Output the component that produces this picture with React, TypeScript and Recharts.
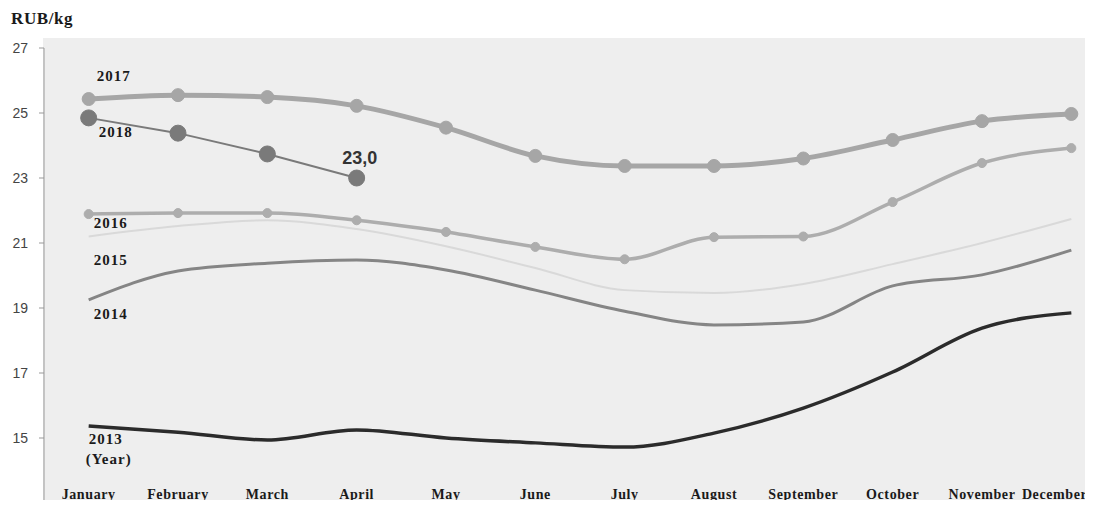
import React from "react"
import { LineChart, Line, XAxis, YAxis, LabelList } from "recharts"

const months = [
  "January", "February", "March", "April", "May", "June",
  "July", "August", "September", "October", "November", "December",
]
const y2013 = [15.37, 15.18, 14.94, 15.25, 15.0, 14.85, 14.72, 15.15, 15.92, 17.03, 18.38, 18.85]
const y2014 = [19.25, 20.14, 20.38, 20.48, 20.17, 19.55, 18.9, 18.48, 18.57, 19.68, 20.02, 20.78]
const y2015 = [21.2, 21.52, 21.7, 21.43, 20.9, 20.23, 19.55, 19.46, 19.74, 20.35, 21.0, 21.74]
const y2016 = [21.89, 21.92, 21.92, 21.7, 21.34, 20.88, 20.5, 21.18, 21.2, 22.26, 23.46, 23.92]
const y2017 = [25.43, 25.55, 25.49, 25.22, 24.55, 23.68, 23.37, 23.37, 23.6, 24.17, 24.75, 24.97]
const y2018 = [24.85, 24.38, 23.74, 23.0]
const yTicks = [13, 15, 17, 19, 21, 23, 25, 27]

const data = months.map((m, i) => ({
  month: m,
  y2013: y2013[i],
  y2014: y2014[i],
  y2015: y2015[i],
  y2016: y2016[i],
  y2017: y2017[i],
  y2018: i < y2018.length ? y2018[i] : null,
}))

const serif = "'Liberation Serif', 'DejaVu Serif', serif"
const sans = "'Liberation Sans', Arial, sans-serif"

// plot area runs from x=44 to x=1116, months sit in the middle of 12 equal slots
const PLOT_W = 1072
const SLOT = PLOT_W / 12

// label drawn next to the first point of a series
function seriesLabel(lines: string[], dx: number, dy: number) {
  return (props: any) => {
    if (props.index !== 0) return null
    return (
      <text
        x={props.x + dx}
        y={props.y + dy}
        fontFamily={serif}
        fontWeight="bold"
        fontSize={15}
        letterSpacing={1}
        fill="#1a1a1a"
      >
        {lines.map((l, i) => (
          <tspan key={i} x={props.x + dx + (i === 1 ? -3 : 0)} dy={i === 0 ? 0 : 20}>
            {l}
          </tspan>
        ))}
      </text>
    )
  }
}

function lastValueLabel(props: any) {
  if (props.index !== y2018.length - 1) return null
  return (
    <text
      x={props.x + 3}
      y={props.y - 14}
      textAnchor="middle"
      fontFamily={sans}
      fontWeight="bold"
      fontSize={18}
      fill="#333"
    >
      {String(props.value.toFixed(1)).replace(".", ",")}
    </text>
  )
}

function MonthTick(props: any) {
  const { x, y, payload, index } = props
  const half = SLOT / 2
  const last = index === months.length - 1
  return (
    <g>
      <line x1={x - half} y1={y} x2={x - half} y2={y + 5} stroke="#999" />
      <text
        x={last ? x + 16 : x}
        y={y - 4}
        textAnchor={last ? "end" : "middle"}
        fontFamily={serif}
        fontWeight="bold"
        fontSize={14}
        letterSpacing={0.6}
        fill="#1a1a1a"
      >
        {payload.value}
      </text>
    </g>
  )
}

export default function App() {
  return (
    <div
      style={{
        position: "relative",
        width: 1093,
        height: 508,
        margin: -8,
        overflow: "hidden",
        background: "#fff",
      }}
    >
      <div
        style={{
          position: "absolute",
          left: 43,
          top: 38,
          width: 1044,
          height: 465,
          background: "#eeeeee",
        }}
      />
      <div
        style={{
          position: "absolute",
          left: 11,
          top: 9,
          fontFamily: serif,
          fontWeight: "bold",
          fontSize: 17,
          letterSpacing: 0.6,
          color: "#1a1a1a",
        }}
      >
        RUB/kg
      </div>
      <div style={{ position: "absolute", left: 0, top: 0 }}>
        <LineChart
          width={1140}
          height={508}
          data={data}
          margin={{ top: 48, right: 24, bottom: 0, left: 0 }}
        >
          <XAxis
            dataKey="month"
            interval={0}
            height={5}
            padding={{ left: SLOT / 2, right: SLOT / 2 }}
            tickSize={0}
            tickMargin={0}
            tickLine={false}
            axisLine={{ stroke: "#999" }}
            tick={<MonthTick />}
          />
          <YAxis
            width={44}
            domain={[13, 27]}
            ticks={yTicks}
            tickSize={5}
            tickMargin={11}
            axisLine={{ stroke: "#999" }}
            tickLine={{ stroke: "#999" }}
            tick={{ fontFamily: sans, fontSize: 14, fill: "#444" }}
          />
          <Line
            dataKey="y2015"
            type="monotone"
            stroke="#d9d9d9"
            strokeWidth={2}
            dot={false}
            isAnimationActive={false}
          >
            <LabelList dataKey="y2015" content={seriesLabel(["2015"], 5, 28)} />
          </Line>
          <Line
            dataKey="y2013"
            type="monotone"
            stroke="#2b2b2b"
            strokeWidth={3.5}
            dot={false}
            isAnimationActive={false}
          >
            <LabelList dataKey="y2013" content={seriesLabel(["2013", "(Year)"], 0, 18)} />
          </Line>
          <Line
            dataKey="y2014"
            type="monotone"
            stroke="#858585"
            strokeWidth={3}
            dot={false}
            isAnimationActive={false}
          >
            <LabelList dataKey="y2014" content={seriesLabel(["2014"], 5, 19)} />
          </Line>
          <Line
            dataKey="y2016"
            type="monotone"
            stroke="#adadad"
            strokeWidth={3.5}
            dot={{ r: 4.5, fill: "#adadad", stroke: "#adadad", strokeWidth: 1 }}
            isAnimationActive={false}
          >
            <LabelList dataKey="y2016" content={seriesLabel(["2016"], 5, 14)} />
          </Line>
          <Line
            dataKey="y2017"
            type="monotone"
            stroke="#a6a6a6"
            strokeWidth={5}
            dot={{ r: 6.5, fill: "#a6a6a6", stroke: "#a6a6a6", strokeWidth: 1 }}
            isAnimationActive={false}
          >
            <LabelList dataKey="y2017" content={seriesLabel(["2017"], 8, -18)} />
          </Line>
          <Line
            dataKey="y2018"
            type="linear"
            stroke="#7a7a7a"
            strokeWidth={2}
            dot={{ r: 8, fill: "#7a7a7a", stroke: "#7a7a7a", strokeWidth: 1 }}
            isAnimationActive={false}
          >
            <LabelList dataKey="y2018" content={seriesLabel(["2018"], 10, 19)} />
            <LabelList dataKey="y2018" content={lastValueLabel} />
          </Line>
        </LineChart>
      </div>
    </div>
  )
}
